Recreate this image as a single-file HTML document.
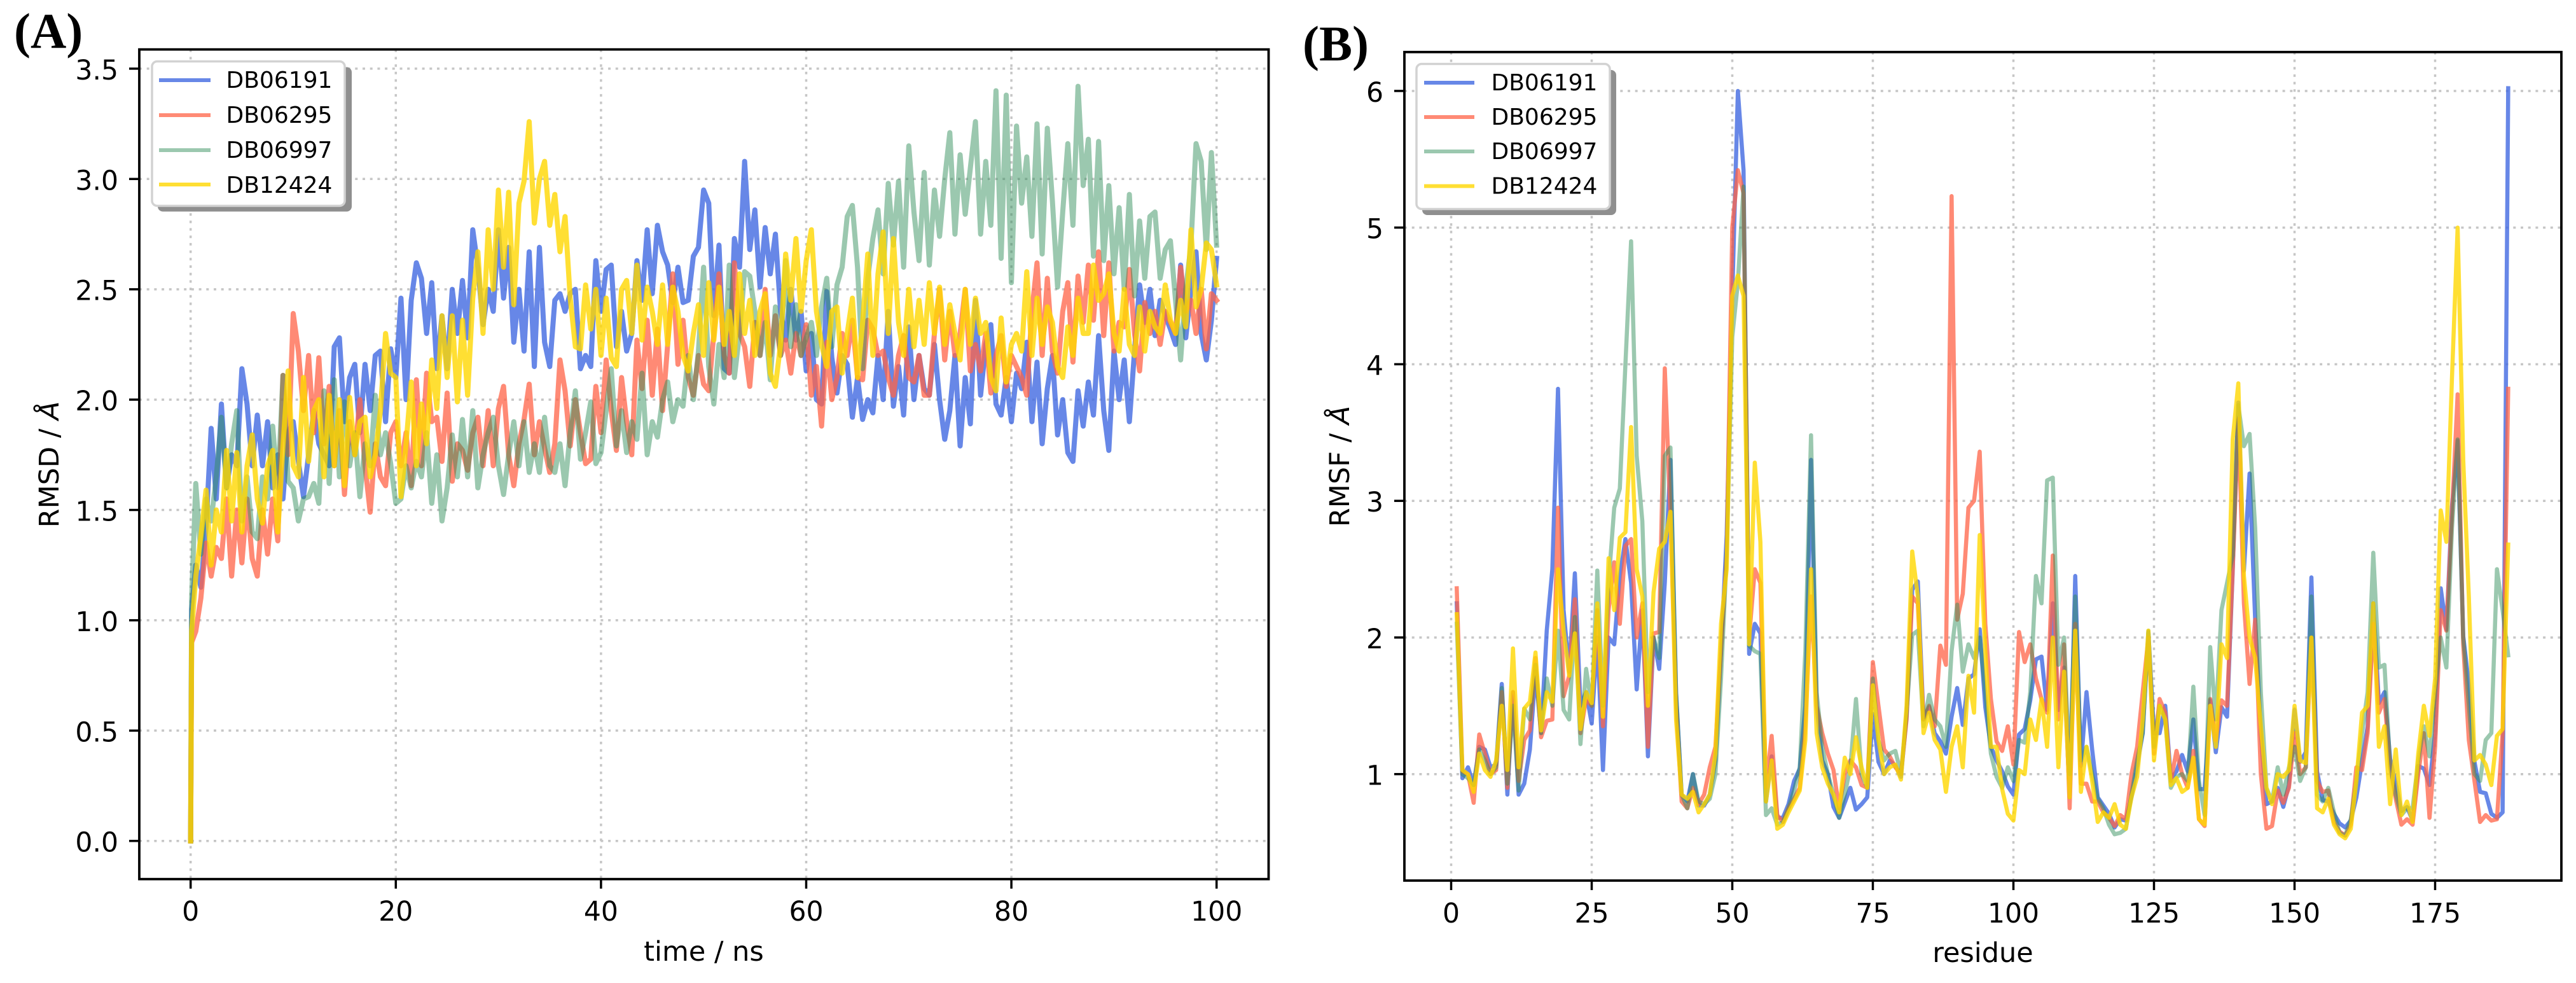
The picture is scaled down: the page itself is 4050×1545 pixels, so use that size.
<!DOCTYPE html>
<html lang="en">
<head>
<meta charset="utf-8">
<title>RMSD and RMSF comparison</title>
<style>
html,body{margin:0;padding:0;background:#fff;}
svg{display:block;position:absolute;left:0;top:0;}
text{font-family:"DejaVu Sans",sans-serif;fill:#000;}
.panel-title{font-family:"Liberation Serif",serif;font-weight:bold;font-size:78px;}
.tick{font-size:42.5px;}
.axis-label{font-size:43px;}
.legend-label{font-size:36px;}
</style>
</head>
<body>
<svg xmlns="http://www.w3.org/2000/svg" width="4050" height="1545" viewBox="0 0 4050 1545">
  <rect x="0" y="0" width="4050" height="1545" fill="#fff"/>

  <text class="panel-title" x="22" y="75">(A)</text>
  <text class="panel-title" x="2048" y="95">(B)</text>

  <g id="chart-a">
    <g id="a-grid"></g>
    <g id="a-marks"></g>
    <g id="a-axes"></g>
    <text class="axis-label" x="1106.5" y="1510" text-anchor="middle">time / ns</text>
    <text class="axis-label" transform="translate(92,730) rotate(-90)" text-anchor="middle">RMSD / <tspan font-style="italic">Å</tspan></text>
    <g>
      <rect x="248" y="105.500" width="305" height="227" rx="8" fill="#8f8f8f"/>
      <rect x="239" y="96.500" width="303" height="227" rx="8" fill="#fff" stroke="#d2d2d2" stroke-width="3.5"/>
      <g>
        <line x1="250" x2="331" y1="126" y2="126" stroke="rgb(65,105,225)" stroke-opacity="0.8" stroke-width="6"/>
        <text class="legend-label" x="355.500" y="138">DB06191</text>
      </g>
      <g>
        <line x1="250" x2="331" y1="181" y2="181" stroke="rgb(255,99,71)" stroke-opacity="0.75" stroke-width="6"/>
        <text class="legend-label" x="355.500" y="193">DB06295</text>
      </g>
      <g>
        <line x1="250" x2="331" y1="236" y2="236" stroke="rgb(46,139,87)" stroke-opacity="0.48" stroke-width="6"/>
        <text class="legend-label" x="355.500" y="248">DB06997</text>
      </g>
      <g>
        <line x1="250" x2="331" y1="290" y2="290" stroke="rgb(255,215,0)" stroke-opacity="0.8" stroke-width="6"/>
        <text class="legend-label" x="355.500" y="303">DB12424</text>
      </g>
    </g>
  </g>

  <g id="chart-b">
    <g id="b-grid"></g>
    <g id="b-marks"></g>
    <g id="b-axes"></g>
    <text class="axis-label" x="3117.500" y="1512" text-anchor="middle">residue</text>
    <text class="axis-label" transform="translate(2121,733) rotate(-90)" text-anchor="middle">RMSF / <tspan font-style="italic">Å</tspan></text>
    <g>
      <rect x="2236" y="110" width="305" height="228" rx="8" fill="#8f8f8f"/>
      <rect x="2227" y="100.500" width="304" height="228" rx="8" fill="#fff" stroke="#d2d2d2" stroke-width="3.5"/>
      <g>
        <line x1="2239" x2="2318" y1="130" y2="130" stroke="rgb(65,105,225)" stroke-opacity="0.8" stroke-width="6"/>
        <text class="legend-label" x="2344.500" y="142">DB06191</text>
      </g>
      <g>
        <line x1="2239" x2="2318" y1="184" y2="184" stroke="rgb(255,99,71)" stroke-opacity="0.75" stroke-width="6"/>
        <text class="legend-label" x="2344.500" y="196">DB06295</text>
      </g>
      <g>
        <line x1="2239" x2="2318" y1="238" y2="238" stroke="rgb(46,139,87)" stroke-opacity="0.48" stroke-width="6"/>
        <text class="legend-label" x="2344.500" y="250">DB06997</text>
      </g>
      <g>
        <line x1="2239" x2="2318" y1="292.500" y2="292.500" stroke="rgb(255,215,0)" stroke-opacity="0.8" stroke-width="6"/>
        <text class="legend-label" x="2344.500" y="304.500">DB12424</text>
      </g>
    </g>
  </g>
</svg>

<script>
/* ---------- Panel A: RMSD vs time ---------- */
const rmsdXTicks = [0, 20, 40, 60, 80, 100];
const rmsdYTicks = [0, 0.5, 1, 1.5, 2, 2.5, 3, 3.5];
const rmsdYTickLabels = ["0.0", "0.5", "1.0", "1.5", "2.0", "2.5", "3.0", "3.5"];

const rmsdDB06191 = [0, 1.05,
  1.25,1.15,1.42,1.87,1.55,1.98,1.6,1.75,1.7,2.14,1.98,1.7,1.93,1.7,1.9,1.6,1.75,1.55,1.85,1.9,
  1.72,1.56,1.75,1.95,1.8,1.75,1.7,2.24,2.28,1.9,2.1,2.16,1.85,2.16,1.95,2.2,2.22,1.9,2.23,2.1,
  2.46,2,2.45,2.62,2.55,2.3,2.53,2.14,2.38,2.14,2.5,2.3,2.54,2.28,2.77,2.6,2.34,2.5,2.4,2.77,
  2.46,2.69,2.26,2.5,2.22,2.67,2.15,2.69,2.26,2.15,2.45,2.48,2.4,2.48,2.5,2.14,2.2,2.15,2.63,2.4,
  2.59,2.61,2.24,2.4,2.22,2.3,2.63,2.45,2.77,2.48,2.79,2.67,2.61,2.44,2.6,2.44,2.45,2.65,2.69,2.95,
  2.89,2.38,2.7,2.14,2.12,2.73,2.6,3.08,2.68,2.86,2.51,2.78,2.57,2.75,2.4,2.27,2.5,2.27,2.4,2.13,
  2.3,2,1.98,2.49,2.19,2.03,2.2,2.16,1.92,2.1,1.91,2,1.94,2.2,2,2.4,1.97,2.15,1.93,2.33,
  2,2.2,2.05,2.02,2.25,2,1.82,1.95,2.2,1.79,2.1,1.89,2.45,2.02,2.25,2.34,1.98,1.93,2.1,1.9,
  2.12,2.05,2.26,1.9,2.17,1.8,2.05,2.2,1.84,2,1.76,1.72,2.04,1.88,2.08,1.93,2.29,1.95,1.77,2.22,
  2,2.18,1.9,2.22,2.52,2.35,2.5,2.29,2.45,2.38,2.32,2.25,2.61,2.28,2.5,2.67,2.3,2.18,2.36,2.64];

const rmsdDB06295 = [0, 0.9,
  0.95,1.1,1.35,1.2,1.33,1.28,1.55,1.2,1.5,1.26,1.55,1.28,1.2,1.5,1.3,1.55,1.36,2.11,1.75,2.39,
  2.22,1.95,2.2,1.85,2.19,1.8,2.06,1.7,1.95,1.57,1.9,1.75,2,1.7,1.49,1.8,1.65,1.61,1.85,1.9,
  1.7,1.85,1.61,2.09,1.7,2.12,1.9,1.92,1.72,2.03,1.63,1.8,1.77,1.68,1.85,1.92,1.7,1.95,1.7,1.96,
  2.06,1.75,1.61,1.8,1.91,2.07,1.75,1.9,1.78,1.67,1.8,2.18,2.04,1.79,2,1.85,1.71,1.73,2.06,1.85,
  2.18,1.95,1.77,2.1,1.9,1.75,2.27,2.05,2.36,2.02,2.32,1.95,2.25,2.57,2.16,2.36,2.1,2.02,2.2,2.07,
  2.04,2.3,2.57,2.2,2.12,2.62,2.3,2.24,2.06,2.35,2.2,2.5,2.2,2.38,2.2,2.27,2.12,2.3,2.2,2.34,
  2.02,2.15,1.88,2.26,2,2.1,2.3,2.2,2.36,2.1,2.09,2.36,2.32,2.2,2.22,2.1,2.02,2.2,2.29,2.1,
  2.08,2.2,2.02,2.02,2.3,2.5,2.18,2.4,2.2,2.3,2.5,2.13,2.25,2.13,2.3,2.03,2.2,2.29,2.06,2.2,
  2.15,2.1,2.02,2.4,2.62,2.2,2.55,2.22,2.12,2.4,2.53,2.17,2.56,2.35,2.61,2.36,2.67,2.29,2.62,2.22,
  2.35,2.33,2.59,2.3,2.13,2.44,2.3,2.4,2.25,2.4,2.35,2.3,2.6,2.4,2.45,2.3,2.5,2.23,2.48,2.45];

const rmsdDB06997 = [0, 1.1,
  1.62,1.3,1.55,1.45,1.65,1.92,1.6,1.8,1.95,1.45,1.65,1.4,1.37,1.65,1.55,1.88,1.6,2.11,1.63,1.6,
  1.45,1.55,1.56,1.62,1.53,2.04,1.62,2.09,1.65,1.99,1.7,1.85,1.56,1.8,1.7,2.02,1.75,1.85,1.71,1.53,
  1.55,1.7,1.6,1.72,1.65,1.85,1.53,1.75,1.45,1.6,1.84,1.65,1.91,1.65,1.95,1.6,1.75,1.85,1.92,1.7,
  1.57,1.75,1.9,1.7,1.9,1.67,1.8,1.67,1.92,1.7,1.67,1.8,1.61,1.85,2.04,1.73,1.85,1.99,1.71,1.76,
  1.95,2.14,1.79,1.95,1.76,1.9,1.82,2.12,1.75,1.9,1.83,2,2.08,1.9,2,1.97,2.2,2,2.22,2.6,
  2.15,1.98,2.25,2.1,2.61,2.1,2.3,2.58,2.56,2.4,2.2,2.35,2.09,2.42,2.2,2.63,2.24,2.43,2.2,2.28,
  2.35,2.2,2.42,2.55,2.24,2.52,2.6,2.83,2.88,2.6,2.14,2.55,2.73,2.86,2.57,2.98,2.7,2.99,2.6,3.15,
  2.85,2.63,3.03,2.61,2.95,2.74,3,3.21,2.75,3.11,2.84,3.05,3.26,2.75,3.08,2.79,3.4,2.64,3.38,2.53,
  3.24,2.89,3.1,2.74,3.25,2.66,3.23,2.9,2.51,2.85,3.16,2.79,3.42,2.97,3.18,2.65,3.17,2.63,2.97,2.57,
  2.87,2.5,2.93,2.47,2.81,2.55,2.83,2.85,2.55,2.68,2.72,2.45,2.18,2.5,2.7,3.16,3.08,2.68,3.12,2.7];

const rmsdDB12424 = [0, 0.95,
  1.2,1.38,1.59,1.25,1.5,1.4,1.77,1.45,1.76,1.4,1.7,1.84,1.55,1.44,1.7,1.77,1.4,1.79,2.13,1.7,
  1.65,2.1,1.72,1.95,2,1.65,2.02,1.7,2,1.61,2.01,1.75,1.9,1.92,1.65,1.75,1.95,2.3,2.12,2.1,
  1.56,1.8,2.08,1.7,1.98,1.8,2.18,1.96,2.38,2.1,2.38,1.99,2.36,2.02,2.46,2.67,2.3,2.77,2.5,2.95,
  2.6,2.94,2.43,2.89,2.99,3.26,2.8,3,3.08,2.79,2.93,2.67,2.83,2.46,2.24,2.23,2.52,2.32,2.5,2.2,
  2.46,2.19,2.15,2.5,2.54,2.3,2.61,2.27,2.51,2.4,2.25,2.52,2.25,2.51,2.4,2.2,2.13,2.3,2.43,2.2,
  2.53,2.27,2.51,2.25,2.4,2.2,2.57,2.3,2.45,2.2,2.4,2.48,2.12,2.06,2.25,2.66,2.45,2.73,2.4,2.63,
  2.77,2.4,2.25,2.15,2.4,2.42,2.12,2.3,2.46,2.1,2.35,2.66,2.2,2.57,2.76,2.3,2.73,2.35,2.2,2.5,
  2.24,2.45,2.25,2.53,2.3,2.51,2.25,2.43,2.3,2.18,2.5,2.25,2.46,2.3,2.35,2.1,2.04,2.37,2.08,2.25,
  2.3,2.22,2.58,2.2,2.46,2.25,2.42,2.35,2.15,2.1,2.33,2.2,2.46,2.3,2.3,2.61,2.45,2.48,2.57,2.3,
  2.22,2.5,2.25,2.2,2.42,2.22,2.4,2.33,2.3,2.52,2.36,2.3,2.45,2.33,2.77,2.42,2.5,2.71,2.68,2.52];

/* ---------- Panel B: RMSF vs residue ---------- */
const rmsfXTicks = [0, 25, 50, 75, 100, 125, 150, 175];
const rmsfYTicks = [1, 2, 3, 4, 5, 6];

const rmsfDB06191 = [
  2.25,.97,1.05,.92,1.2,1.18,1.05,1.07,1.66,.85,
  1.6,.85,.93,1.18,1.75,1.3,2.05,2.5,3.82,2.2,
  1.75,2.47,1.5,1.6,1.37,2,1.03,2,1.95,2.45,
  2.72,2.4,1.62,2.2,1.13,2,1.77,2.4,3.3,1.6,
  .85,.8,1,.77,.77,.85,1.1,1.9,2.75,4.5,
  6,5.42,1.88,2.1,2.03,.8,1.13,.68,.68,.78,
  .95,1.04,1.5,3.3,1.5,1.1,1,.76,.68,.79,
  .9,.74,.78,.83,1.44,1.09,1,1.1,1.06,.98,
  1.42,2.35,2.41,1.4,1.49,1.3,1.24,1.15,1.42,1.63,
  1.36,1.7,1.73,2.06,1.49,1.2,1.1,1.02,.91,.85,
  1.29,1.33,1.54,1.84,1.86,1.47,2.25,1.47,1.78,.83,
  2.45,1.06,1.6,1.18,.83,.77,.71,.61,.67,.66,
  .83,1.06,1.3,2.04,1.3,1.3,1.5,.97,1.02,1.14,
  1.02,1.4,.89,.89,1.54,1.16,1.49,1.42,2.49,3.72,
  2.49,3.2,2.13,1.3,.78,.8,.9,.76,.92,1.47,
  1.09,1.16,2.44,1.02,.81,.8,.71,.64,.61,.66,
  .83,1.09,1.35,2.25,1.52,1.6,1.11,.93,.73,.76,
  .66,1.06,1.04,.92,1.3,2.36,2.06,2.96,3.44,2.01,
  1.66,1.09,.87,.86,.71,.68,.72,6.02];

const rmsfDB06295 = [
  2.36,1.02,1,.79,1.29,1.15,1,1.03,1.6,.9,
  1.6,.95,1.25,1.32,1.85,1.27,1.39,1.4,2.95,1.57,
  1.72,2.28,1.3,1.55,1.5,2.2,1.35,2.2,2.55,2.1,
  2.67,2.72,2,2.25,1.2,2.03,2.04,3.97,2.9,1.5,
  .8,.75,.9,.78,.85,1.05,1.2,1.9,2.6,5,
  5.42,5.25,2,2.5,2.4,.9,1.28,.7,.65,.75,
  .82,.9,1.35,2.3,1.5,1.3,1.15,1.03,.75,1,
  1.1,1.05,.92,.9,1.82,1.5,1.18,1.13,1.05,1,
  1.4,2.3,2.25,1.4,1.5,1.35,1.94,1.8,5.23,2.13,
  2.32,2.95,3,3.36,2.1,1.55,1.24,1.17,1.35,1.07,
  2.04,1.82,1.95,1.7,1.55,1.45,2.6,1.4,1.95,.75,
  2.1,.93,.93,.8,.8,.72,.68,.62,.7,.67,
  1,1.2,1.6,2,1.15,1.55,1.45,.95,1.17,1,
  .9,1.17,.67,.62,1.55,1.25,1.54,1.5,2.5,3.6,
  2.25,1.66,2.13,1,.6,.62,.88,.79,.9,1.3,
  1,1.05,2,.95,.87,.88,.65,.58,.55,.63,
  1.05,1.03,1.3,2.1,1.45,1.55,1.05,.82,.63,.67,
  .63,1,1.3,.68,1.2,2.2,2.05,2.9,3.78,1.95,
  1.25,.95,.65,.7,.66,.67,1.3,3.82];

const rmsfDB06997 = [
  2.1,1,.97,.92,1.18,1.1,1,1.05,1.63,.93,
  1.5,.88,1.48,1.4,1.8,1.3,1.7,1.5,2.05,1.47,
  1.4,2.15,1.22,1.77,1.5,2.49,1.5,2.4,2.95,3.09,
  4,4.9,3.33,2.85,1.6,2,1.85,3.33,3.39,1.6,
  .85,.75,1,.8,.78,.82,1,1.7,2.6,4.2,
  4.6,5.3,1.94,1.9,1.88,.7,.75,.63,.65,.75,
  .88,1.05,1.9,3.48,1.6,1.2,1,.85,.68,.85,
  1.05,1.55,1,.9,1.7,1.25,1.1,1.15,1.17,1,
  1.45,2.02,2.05,1.35,1.58,1.4,1.35,1.2,1.9,2.24,
  1.75,1.95,1.85,2,1.6,1.15,.98,.9,1.05,.95,
  1.25,1.23,1.6,2.45,2.25,3.15,3.17,1.8,2,1,
  2.3,1.1,1.2,1,.82,.75,.63,.56,.57,.6,
  .85,1.1,1.3,2.05,1.2,1.5,1.4,.9,.98,1,
  .95,1.64,.95,.7,1.93,1.4,2.2,2.4,2.6,3.7,
  3.4,3.49,2.8,1.6,.9,.8,1.05,.85,1.05,1.2,
  .95,1.05,2.3,.85,.8,.9,.72,.57,.55,.67,
  .95,1.3,1.6,2.62,1.78,1.8,1.05,.85,.7,.75,
  .75,1.1,1.35,1.13,1.6,2,1.78,2.8,3.45,2,
  1.5,1,.95,1.25,1.3,2.5,2.2,1.87];

const rmsfDB12424 = [
  2.17,1.03,1,.87,1.15,1.03,.98,1.1,1.5,1.03,
  1.92,1.05,1.48,1.53,1.89,1.32,1.6,1.53,2.5,2.05,
  1.72,2.03,1.33,1.6,1.52,2.25,1.42,2.58,2.2,2.73,
  2.77,3.54,2.5,2.3,1.5,2.33,2.65,2.7,2.92,1.4,
  .85,.82,.87,.72,.78,.85,1.15,2.1,2.5,4.5,
  4.65,4.5,1.95,3.28,2.7,.8,1.1,.6,.63,.72,
  .8,.88,1.25,2.5,1.3,1.05,.93,.85,.72,1.12,
  1,1.27,1.05,.9,1.65,1.25,1,1.05,1.07,.96,
  1.5,2.63,2.3,1.3,1.45,1.25,1.18,.87,1.2,1.35,
  1.05,1.72,1.45,2.75,1.9,1.2,1.2,.89,.71,.66,
  1.03,1,1.4,1.25,1.55,1.2,2,1.05,1.75,.83,
  2.05,.87,1.2,.95,.65,.72,.68,.78,.63,.6,
  .83,.98,1.4,2.05,1.1,1.5,1.4,.92,.97,.87,
  .9,1.12,.67,.63,1.5,1.2,1.95,1.85,3.45,3.86,
  2.45,2,1.85,1.35,.9,.78,1,.98,1.03,1.5,
  1.1,1.08,2,.75,.72,.82,.63,.56,.53,.6,
  .95,1.45,1.5,2.25,1.2,1.35,.78,1.18,.7,.8,
  .65,1.15,1.5,1.28,1.7,2.93,2.7,3.9,5,3.3,
  2.3,1.1,1.14,1.07,.92,1.28,1.33,2.68];

const SVG_NS = "http://www.w3.org/2000/svg";

function mk(tag, attrs, parent) {
  const node = document.createElementNS(SVG_NS, tag);
  for (const k in attrs) node.setAttribute(k, attrs[k]);
  parent.appendChild(node);
  return node;
}

/* index-to-x mappings of each chart's sampling */
function rmsdTime(i) { return i === 0 ? 0 : i === 1 ? 0.1 : (i - 1) * 0.5; }
function rmsfResidue(i) { return i + 1; }

const STYLES = [
  { id: "db06191", color: "rgb(65,105,225)", opacity: 0.8 },
  { id: "db06295", color: "rgb(255,99,71)", opacity: 0.75 },
  { id: "db06997", color: "rgb(46,139,87)", opacity: 0.48 },
  { id: "db12424", color: "rgb(255,215,0)", opacity: 0.8 }
];

function drawChart(cfg) {
  const { box, xScale, yScale } = cfg;
  const grid = document.getElementById(cfg.prefix + "-grid");
  const marks = document.getElementById(cfg.prefix + "-marks");
  const axes = document.getElementById(cfg.prefix + "-axes");
  const gridStyle = { stroke: "#c6c6c6", "stroke-width": 3.5, "stroke-dasharray": "4 7.7" };

  cfg.xTicks.forEach(function (tick) {
    const x = xScale(tick);
    const gl = mk("line", Object.assign({ x1: x, x2: x, y1: box.top, y2: box.bottom }, gridStyle), grid);
    
    
    const tm = mk("line", { x1: x, x2: x, y1: box.bottom, y2: box.bottom + 15, stroke: "#000", "stroke-width": 3.5 }, axes);
    
    
    const tl = mk("text", { class: "tick", x: x, y: cfg.xLabelY, "text-anchor": "middle" }, axes);
    
    
    tl.textContent = String(tick);
  });

  cfg.yTicks.forEach(function (tick, i) {
    const y = yScale(tick);
    const gl = mk("line", Object.assign({ x1: box.left, x2: box.right, y1: y, y2: y }, gridStyle), grid);
    
    
    const tm = mk("line", { x1: box.left - 16, x2: box.left, y1: y, y2: y, stroke: "#000", "stroke-width": 3.5 }, axes);
    
    
    const tl = mk("text", { class: "tick", x: cfg.yLabelX, y: y + 17, "text-anchor": "end" }, axes);
    
    
    tl.textContent = cfg.yTickLabels[i];
  });

  cfg.series.forEach(function (values, s) {
    let d = "";
    values.forEach(function (v, i) {
      d += (i ? "L" : "M") + xScale(cfg.xOf(i)).toFixed(1) + " " + yScale(v).toFixed(1);
    });
    const line = mk("path", {
      d: d, fill: "none", stroke: STYLES[s].color, "stroke-opacity": STYLES[s].opacity,
      "stroke-width": cfg.lineWidth, "stroke-linejoin": "round", "stroke-linecap": "square"
    }, marks);
    
    
  });

  const frame = mk("rect", {
    x: box.left, y: box.top, width: box.right - box.left, height: box.bottom - box.top,
    fill: "none", stroke: "#000", "stroke-width": 3.8
  }, axes);
  
  
}

drawChart({
  prefix: "a",
  box: { left: 219, right: 1994.5, top: 77.7, bottom: 1381.7 },
  xScale: function (t) { return 299.7 + 16.13 * t; },
  yScale: function (v) { return 1321.7 - 346.8 * v; },
  xOf: rmsdTime,
  xTicks: rmsdXTicks,
  yTicks: rmsdYTicks,
  yTickLabels: rmsdYTickLabels,
  xLabelY: 1447,
  yLabelX: 186,
  lineWidth: 8,
  series: [rmsdDB06191, rmsdDB06295, rmsdDB06997, rmsdDB12424]
});

drawChart({
  prefix: "b",
  box: { left: 2208, right: 4027, top: 81.8, bottom: 1384 },
  xScale: function (r) { return 2281.5 + 8.84 * r; },
  yScale: function (v) { return 1431.45 - 214.75 * v; },
  xOf: rmsfResidue,
  xTicks: rmsfXTicks,
  yTicks: rmsfYTicks,
  yTickLabels: rmsfYTicks.map(String),
  xLabelY: 1450,
  yLabelX: 2175,
  lineWidth: 6.5,
  series: [rmsfDB06191, rmsfDB06295, rmsfDB06997, rmsfDB12424]
});
</script>
</body>
</html>
